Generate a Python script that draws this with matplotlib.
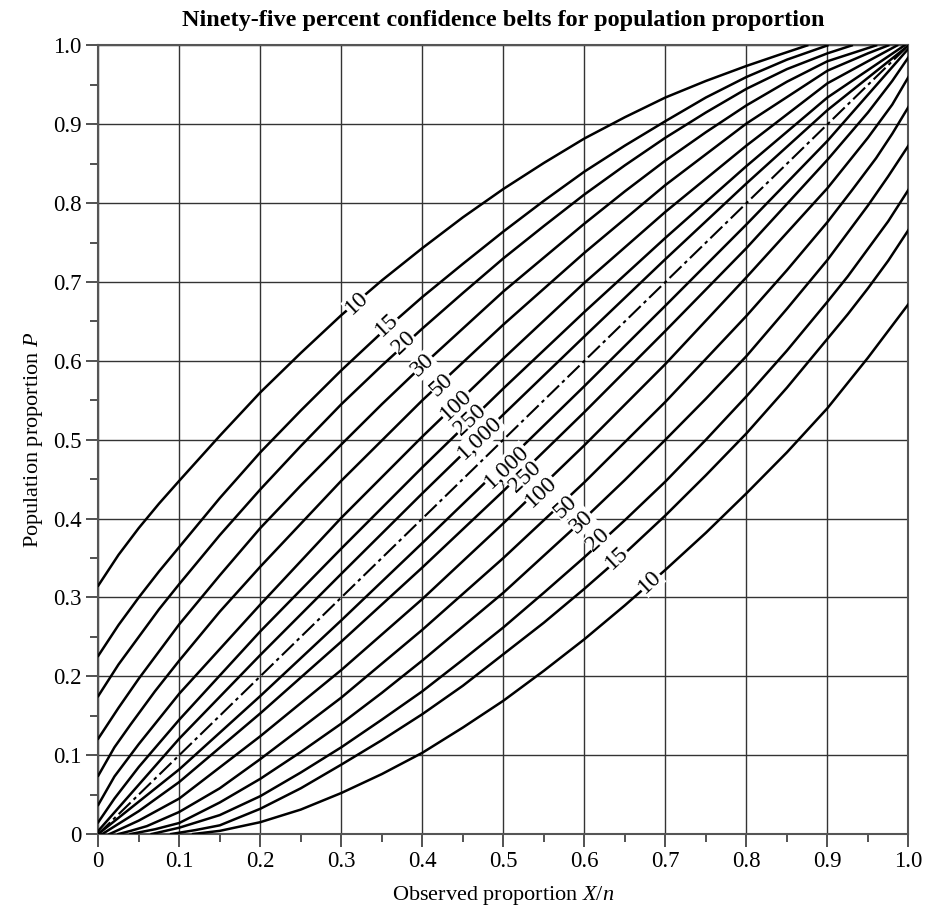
import matplotlib
matplotlib.use("Agg")
import matplotlib.pyplot as plt

plt.rcParams['font.family'] = ['Liberation Serif', 'DejaVu Serif']
plt.rcParams['mathtext.fontset'] = 'custom'
plt.rcParams['mathtext.rm'] = 'Liberation Serif'
plt.rcParams['mathtext.it'] = 'Liberation Serif:italic'
plt.rcParams['lines.scale_dashes'] = False

sizes = ['10', '15', '20', '30', '50', '100', '250', '1,000']

# upper belt edges
up_x = [
    [0, .025, .05, .075, .1, .15, .2, .25, .3, .35, .4, .45, .5, .55, .6, .65, .7, .75, .8, .84, .875],
    [0, .025, .05, .075, .1, .15, .2, .25, .3, .35, .4, .45, .5, .55, .6, .65, .7, .75, .8, .85, .9],
    [0, .025, .05, .075, .1, .15, .2, .25, .3, .35, .4, .45, .5, .55, .6, .65, .7, .75, .8, .85, .9, .93],
    [0, .025, .05, .1, .15, .2, .25, .3, .35, .4, .45, .5, .55, .6, .65, .7, .75, .8, .85, .9, .96],
    [0, .02, .04, .07, .1, .15, .2, .3, .4, .5, .6, .7, .8, .9, .95, .975],
    [0, .02, .05, .1, .2, .3, .4, .5, .6, .7, .8, .9, .95, .986],
    [0, .02, .05, .1, .2, .3, .4, .5, .6, .7, .8, .9, .995],
    [0, .1, .2, .3, .4, .5, .6, .7, .8, .9, 1],
]
up_y = [
    [.315, .354, .388, .419, .448, .505, .560, .610, .658, .702, .743, .782, .818, .851,
     .882, .909, .934, .955, .974, .988, 1.0],
    [.226, .265, .300, .333, .364, .426, .484, .537, .588, .636, .681, .723, .764, .803,
     .840, .873, .904, .934, .960, .982, 1.0],
    [.175, .215, .250, .285, .317, .379, .437, .492, .545, .594, .641, .686, .730, .771,
     .811, .848, .883, .915, .945, .970, .990, 1.0],
    [.121, .160, .197, .266, .328, .388, .442, .494, .545, .594, .641, .688, .731, .774,
     .815, .854, .890, .924, .954, .980, 1.0],
    [.074, .110, .139, .181, .220, .282, .339, .448, .550, .646, .737, .823, .901, .968, .990, 1.0],
    [.037, .073, .114, .178, .291, .401, .504, .603, .699, .789, .873, .952, .980, 1.0],
    [.015, .045, .085, .145, .257, .362, .465, .565, .662, .756, .847, .934, 1.0],
    [.004, .121, .227, .330, .432, .532, .631, .729, .825, .918, 1.0],
]

# lower belt edges
lo_x = [
    [.117, .15, .2, .25, .3, .35, .4, .45, .5, .55, .6, .65, .7, .75, .8, .85, .9, .95, 1],
    [.09, .12, .15, .2, .25, .3, .35, .4, .45, .5, .55, .6, .65, .7, .75, .8, .85, .9,
     .925, .95, .975, 1],
    [.066, .1, .15, .2, .25, .3, .35, .4, .45, .5, .55, .6, .65, .7, .75, .8, .85, .9,
     .925, .95, .975, 1],
    [.04, .07, .1, .15, .2, .25, .3, .35, .4, .45, .5, .55, .6, .65, .7, .75, .8, .85,
     .9, .95, .975, 1],
    [.025, .04, .06, .1, .15, .2, .3, .4, .5, .6, .7, .8, .85, .9, .93, .96, .98, 1],
    [.014, .05, .1, .2, .3, .4, .5, .6, .7, .8, .9, .95, .98, 1],
    [.005, .05, .1, .2, .3, .4, .5, .6, .7, .8, .9, .95, .98, 1],
    [0, .1, .2, .3, .4, .5, .6, .7, .8, .9, 1],
]
lo_y = [
    [0, .004, .015, .031, .052, .076, .103, .135, .169, .207, .247, .290, .335, .382,
     .432, .484, .540, .604, .672],
    [0, .005, .011, .032, .058, .088, .119, .152, .188, .228, .268, .311, .356, .404,
     .455, .508, .566, .628, .659, .692, .727, .766],
    [0, .008, .024, .048, .078, .110, .145, .181, .221, .262, .306, .351, .398, .447,
     .500, .555, .613, .675, .707, .742, .777, .817],
    [0, .006, .014, .040, .070, .104, .140, .179, .220, .263, .306, .353, .400, .449,
     .500, .552, .606, .666, .728, .797, .834, .873],
    [0, .004, .010, .028, .058, .095, .173, .259, .350, .446, .548, .657, .715, .776,
     .816, .857, .888, .922],
    [0, .017, .045, .124, .208, .298, .394, .493, .596, .706, .819, .883, .925, .960],
    [0, .029, .066, .153, .244, .338, .435, .535, .638, .743, .855, .915, .955, .985],
    [0, .082, .175, .271, .369, .468, .568, .670, .773, .879, .996],
]

# label spots on the curves
up_lab = [(.319, .673), (.356, .646), (.377, .623), (.401, .595),
          (.424, .570), (.442, .544), (.459, .525), (.471, .502)]
lo_lab = [(.681, .320), (.640, .350), (.617, .373), (.597, .396),
          (.576, .415), (.547, .434), (.527, .453), (.504, .466)]

fig = plt.figure(figsize=(9.27, 9.09), dpi=100)
ax = fig.add_axes([0.106, 0.0825, 0.874, 0.8675])

for i in range(len(sizes)):
    ax.plot(up_x[i], up_y[i], color='black', lw=1.8, zorder=3, solid_joinstyle='round')
    ax.plot(lo_x[i], lo_y[i], color='black', lw=1.8, zorder=3, solid_joinstyle='round')
    for (lx, ly) in (up_lab[i], lo_lab[i]):
        ax.text(lx, ly, sizes[i], rotation=43, fontsize=17, ha='center', va='center',
                rotation_mode='anchor', zorder=5,
                bbox=dict(fc='white', ec='none', pad=0.3))

ax.plot([0, 1], [0, 1], color='black', lw=1.5, dashes=(12, 3, 2.5, 3), zorder=3)

ax.set_xlim(0, 1)
ax.set_ylim(0, 1)
ticks = [i / 10 for i in range(11)]
labels = ['0'] + ['%.1f' % t for t in ticks[1:]]
ax.set_xticks(ticks)
ax.set_xticklabels(labels)
ax.set_yticks(ticks)
ax.set_yticklabels(labels)
ax.set_xticks([i / 20 for i in range(1, 20, 2)], minor=True)
ax.set_yticks([i / 20 for i in range(1, 20, 2)], minor=True)
ax.tick_params(which='major', direction='out', length=9, width=1.2, labelsize=16.5,
               color='#333333', pad=3)
ax.tick_params(which='minor', direction='out', length=6, width=1.2, color='#333333')
ax.grid(True, which='major', color='#333333', lw=1.0, zorder=1)
ax.set_axisbelow(True)
for s in ax.spines.values():
    s.set_color('#555555')
    s.set_linewidth(1.5)

ax.set_title('Ninety-five percent confidence belts for population proportion',
             fontsize=17.5, fontweight='bold', pad=14)
ax.set_xlabel('Observed proportion $X/n$', fontsize=16, labelpad=9)
ax.set_ylabel('Population proportion $P$', fontsize=16, labelpad=6)

fig.savefig('out.png', dpi=100)
